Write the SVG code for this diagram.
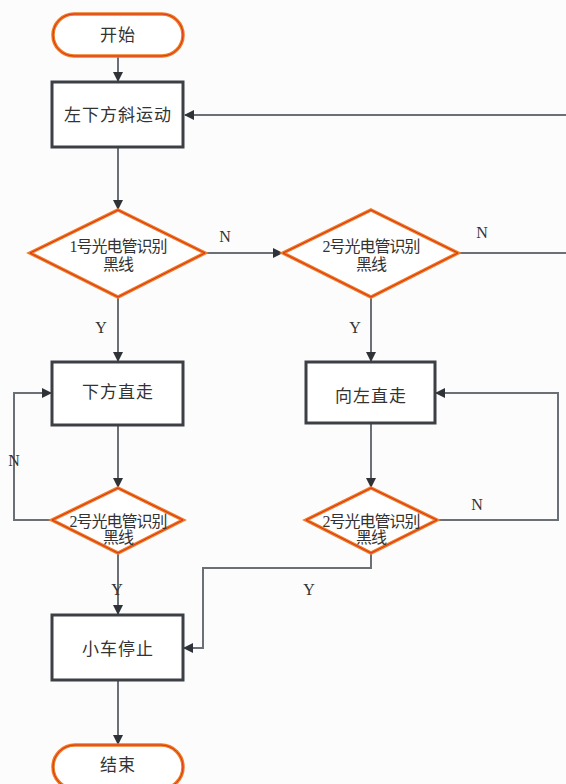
<svg xmlns="http://www.w3.org/2000/svg" width="566" height="784" viewBox="0 0 566 784">
  <style>
    .term { fill: #ffffff; stroke: #ee7a22; stroke-width: 3.5; }
    .term-in { fill: none; stroke: #d8321c; stroke-width: 1; }
    .proc { fill: #ffffff; stroke: #3c3f44; stroke-width: 3; }
    .dec { fill: #ffffff; stroke: #ee7a22; stroke-width: 3.5; stroke-linejoin: miter; }
    .dec-in { fill: none; stroke: #d8321c; stroke-width: 1; }
    .lbl { font-family: "Liberation Serif", "Noto Sans CJK SC", serif; font-size: 17px; fill: #333333; text-anchor: middle; letter-spacing: 1px; }
    .dlbl { font-family: "Liberation Serif", "Noto Sans CJK SC", serif; font-size: 16px; fill: #333333; text-anchor: middle; letter-spacing: -1px; }
    .yn { font-family: "Liberation Serif", serif; font-size: 16px; fill: #333333; text-anchor: middle; }
    .conn { fill: none; stroke: #6b7077; stroke-width: 2; }
  </style>
  <defs>
    <marker id="arrow" markerWidth="10" markerHeight="10" refX="9" refY="5" orient="auto" markerUnits="userSpaceOnUse">
      <path d="M0,0 L10,5 L0,10 Z" fill="#2f3237"/>
    </marker>
  </defs>
  <rect x="0" y="0" width="566" height="784" fill="#fcfcfc"/>

  <!-- connectors -->
  <g id="connectors">
    <path class="conn" d="M118,56 V81" marker-end="url(#arrow)"/>
    <path class="conn" d="M566,115 H185" marker-end="url(#arrow)"/>
    <path class="conn" d="M118,147 V209" marker-end="url(#arrow)"/>
    <path class="conn" d="M205,253 H282" marker-end="url(#arrow)"/>
    <path class="conn" d="M458,253 H566"/>
    <path class="conn" d="M118,297 V361" marker-end="url(#arrow)"/>
    <path class="conn" d="M371,297 V361" marker-end="url(#arrow)"/>
    <path class="conn" d="M118,425 V487" marker-end="url(#arrow)"/>
    <path class="conn" d="M371,423 V487" marker-end="url(#arrow)"/>
    <path class="conn" d="M52,520 H14 V393 H51" marker-end="url(#arrow)"/>
    <path class="conn" d="M437,520 H558 V393 H436" marker-end="url(#arrow)"/>
    <path class="conn" d="M118,553 V614" marker-end="url(#arrow)"/>
    <path class="conn" d="M371,553 V568 H203 V648 H184" marker-end="url(#arrow)"/>
    <path class="conn" d="M118,680 V744" marker-end="url(#arrow)"/>
    <text class="yn" x="225" y="242">N</text>
    <text class="yn" x="482" y="238">N</text>
    <text class="yn" x="101" y="333">Y</text>
    <text class="yn" x="355" y="333">Y</text>
    <text class="yn" x="14" y="466">N</text>
    <text class="yn" x="477" y="510">N</text>
    <text class="yn" x="117" y="595">Y</text>
    <text class="yn" x="309" y="595">Y</text>
  </g>

  <g id="start">
    <rect class="term" x="53" y="14" width="130" height="42" rx="21" ry="21"/>
    <rect class="term-in" x="53" y="14" width="130" height="42" rx="21" ry="21"/>
    <text class="lbl" x="118" y="41">开始</text>
  </g>

  <g id="move-diag">
    <rect class="proc" x="52" y="82" width="131" height="65"/>
    <text class="lbl" x="118" y="121">左下方斜运动</text>
  </g>

  <g id="check1">
    <polygon class="dec" points="118,210 205,253 118,297 30,253"/>
    <polygon class="dec-in" points="118,210 205,253 118,297 30,253"/>
    <text class="dlbl" x="118" y="252">1号光电管识别</text>
    <text class="dlbl" x="118" y="270">黑线</text>
  </g>

  <g id="check2">
    <polygon class="dec" points="371,210 458,253 371,297 283,253"/>
    <polygon class="dec-in" points="371,210 458,253 371,297 283,253"/>
    <text class="dlbl" x="371" y="252">2号光电管识别</text>
    <text class="dlbl" x="371" y="270">黑线</text>
  </g>

  <g id="move-down">
    <rect class="proc" x="52" y="362" width="131" height="63"/>
    <text class="lbl" x="118" y="398">下方直走</text>
  </g>

  <g id="move-left">
    <rect class="proc" x="306" y="362" width="129" height="61"/>
    <text class="lbl" x="371" y="402">向左直走</text>
  </g>

  <g id="check3">
    <polygon class="dec" points="118,488 183,520 118,553 52,520"/>
    <polygon class="dec-in" points="118,488 183,520 118,553 52,520"/>
    <text class="dlbl" x="118" y="527">2号光电管识别</text>
    <text class="dlbl" x="118" y="543">黑线</text>
  </g>

  <g id="check4">
    <polygon class="dec" points="371,488 437,520 371,553 306,520"/>
    <polygon class="dec-in" points="371,488 437,520 371,553 306,520"/>
    <text class="dlbl" x="371" y="527">2号光电管识别</text>
    <text class="dlbl" x="371" y="543">黑线</text>
  </g>

  <g id="stop">
    <rect class="proc" x="52" y="615" width="131" height="65"/>
    <text class="lbl" x="118" y="655">小车停止</text>
  </g>

  <g id="end">
    <rect class="term" x="53" y="745" width="130" height="44" rx="22" ry="22"/>
    <rect class="term-in" x="53" y="745" width="130" height="44" rx="22" ry="22"/>
    <text class="lbl" x="118" y="771">结束</text>
  </g>
</svg>
